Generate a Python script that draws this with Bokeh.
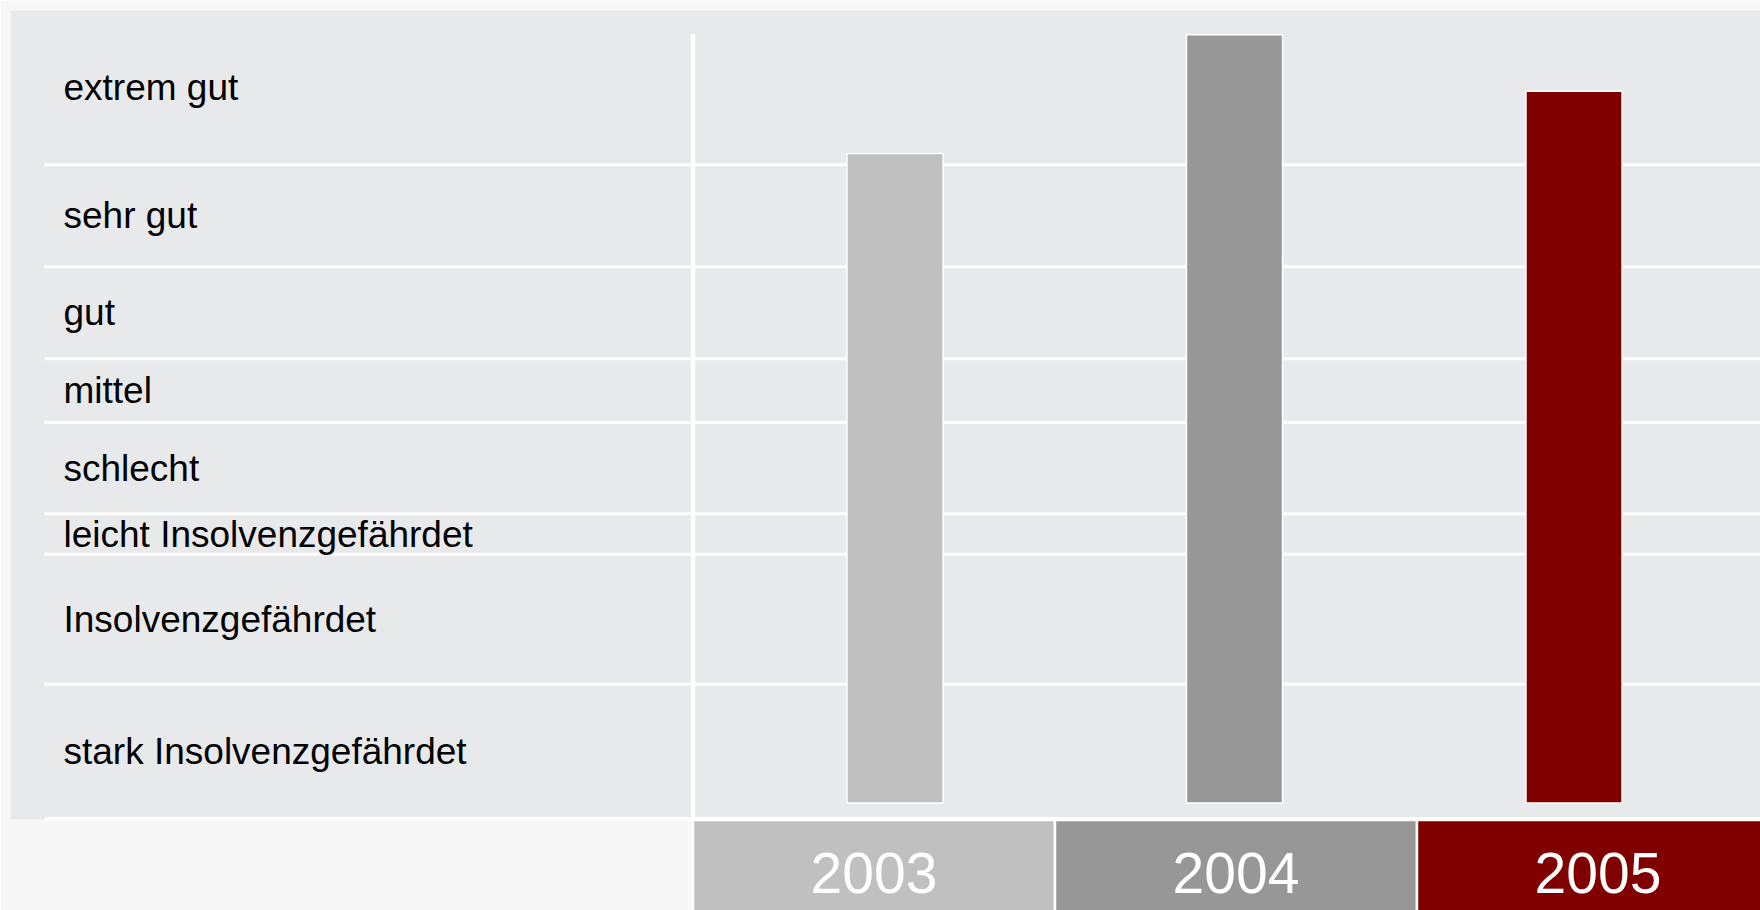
from bokeh.plotting import figure
from bokeh.models import Range1d
from bokeh.embed import file_html
from bokeh.resources import INLINE
from bokeh.core.properties import value

# ---- data -------------------------------------------------------------
ratings = ["stark Insolvenzgefährdet", "Insolvenzgefährdet", "leicht Insolvenzgefährdet",
           "schlecht", "mittel", "gut", "sehr gut", "extrem gut"]          # bottom -> top
bounds = [0, 16.6, 32.7, 37.7, 49.0, 56.9, 68.3, 80.9, 100]               # band limits (rating scale)
years = ["2003", "2004", "2005"]
scores = [82.3, 97.0, 90.0]
bar_base = 1.9
colors = ["#c0c0c0", "#979797", "#800000"]

# ---- layout constants ---------------------------------------------------
PANEL = "#e8e9eb"
PAGE = "#f7f7f7"
FONT = "Liberation Sans"

p = figure(width=1760, height=910,
           x_range=Range1d(-1.8854, 2.9489), y_range=Range1d(-11.39, 100),
           min_border_left=10, min_border_top=10, min_border_right=0, min_border_bottom=0,
           x_axis_location=None, y_axis_location=None,
           toolbar_location=None, output_backend="svg")
p.extra_x_ranges = {"bars": Range1d(-2.6053, 2.5493)}
p.grid.visible = False
p.outline_line_color = None
p.background_fill_color = PAGE
p.border_fill_color = PAGE

# grey panel
p.quad(left=-2.5, right=3.5, bottom=bounds[0] - 0.1, top=bounds[-1] + 1,
       fill_color=PANEL, line_color=None)

# band separators
p.segment(x0=-1.7914, x1=3.5, y0=bounds[:-1], y1=bounds[:-1],
          line_color="white", line_width=3)

# vertical divider
p.segment(x0=0, x1=0, y0=bounds[0] - 0.2, y1=97.07, line_color="white", line_width=4.5)

# rating labels (centred in their bands)
mids = [(bounds[i] + bounds[i + 1]) / 2 for i in range(len(ratings))]
p.text(x=-1.739, y=mids, text=ratings, text_font=value(FONT), text_font_size="37px",
       text_color="#000000", text_align="left", text_baseline="middle")

# bars
idx = list(range(len(years)))
p.vbar(x=idx, width=0.283, bottom=bar_base, top=scores, fill_color=colors,
       line_color="white", line_width=1.5, x_range_name="bars")

# year header boxes
p.quad(left=idx, right=[i + 1 for i in idx], top=-0.2, bottom=-20,
       fill_color=colors, line_color="white", line_width=2.5)
p.text(x=[i + 0.5 for i in idx], y=-6.8, text=years, text_font=value(FONT),
       text_font_size="57px", text_color="white", text_align="center",
       text_baseline="middle")

html = file_html(p, INLINE)
html = html.replace("<body>", '<body style="background-color:%s;">' % PAGE, 1)
open("out.html", "w").write(html)
